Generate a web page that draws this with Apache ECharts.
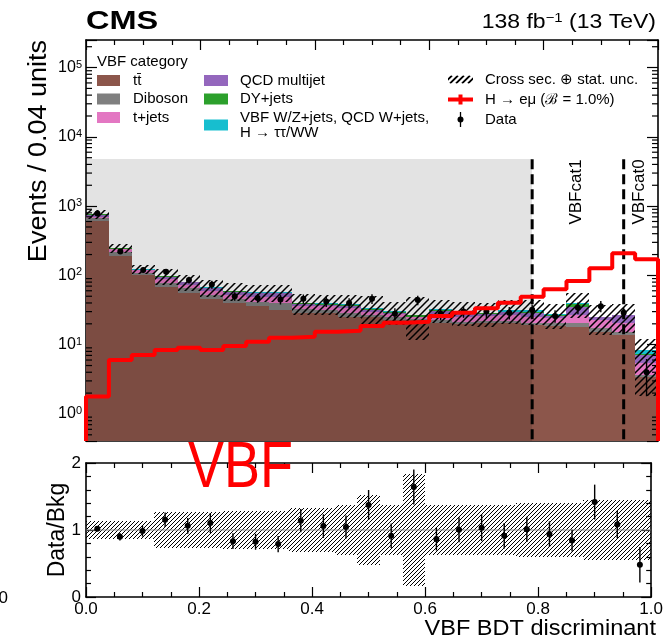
<!DOCTYPE html>
<html>
<head>
<meta charset="utf-8">
<script src="https://cdn.jsdelivr.net/npm/echarts@6/dist/echarts.min.js"></script>
<style>
  html, body { margin: 0; padding: 0; background: #fff; }
  #chart { width: 666px; height: 641px; }
</style>
</head>
<body>
<div id="chart"></div>
<script>
// VBF category: BDT discriminant, bins of 0.04
const binEdges = [0.00, 0.04, 0.08, 0.12, 0.16, 0.20, 0.24, 0.28, 0.32, 0.36, 0.40, 0.44, 0.48,
  0.52, 0.56, 0.60, 0.64, 0.68, 0.72, 0.76, 0.80, 0.84, 0.88, 0.92, 0.96, 1.00];

// background components, stacked bottom to top
const ttbar    = [615, 191, 100, 69, 55, 45, 39.6, 36, 31.7, 28.4, 28.4, 24.9, 24.9, 22.7, 22.7, 20.4, 19.9, 20.4, 20.8, 19.2, 18.6, 18.2, 15.4, 13.8, 3.4];
const diboson  = [52, 29, 9, 9.5, 11.5, 7, 5.4, 5.7, 8, 4, 3.3, 3.5, 1.9, 2.7, 1, 2.3, 1.6, 1.8, 1.4, 1.2, 1.8, 2.2, 1.8, 1.6, 0.2];
const tjets    = [36, 18, 9, 9, 7, 7, 7, 7, 9, 4, 4, 5, 3, 2.5, 1, 4.5, 4, 3.5, 4.5, 5, 3.5, 6.4, 5.5, 5, 1.8];
const qcd      = [48, 5, 2, 8, 5.5, 6, 6, 6.5, 6.5, 2.5, 2, 2.5, 1.5, 1, 0.5, 3.5, 2.5, 1.8, 2.5, 3.5, 2, 8.5, 2.3, 6.2, 1.8];
const dyjets   = [10, 2, 1, 1.5, 1.2, 1.2, 1.2, 1.2, 1.2, 1, 1.5, 1.8, 1.6, 1.2, 1.2, 1.2, 0.6, 0.8, 0.5, 0.6, 0.5, 3.5, 0.2, 0.1, 0.1];
const vbfOther = [9, 1, 1, 1, 0.8, 0.8, 0.8, 0.6, 0.6, 0.5, 0.5, 0.6, 0.6, 0.5, 0.4, 0.5, 1.3, 0.7, 2, 2.2, 1.3, 1.6, 0.2, 0.1, 1.0];

// relative background uncertainty (cross sec. + stat.), as drawn in the ratio panel
const uncRel = [0.14, 0.14, 0.14, 0.27, 0.27, 0.27, 0.28, 0.28, 0.28, 0.33, 0.33, 0.37, 0.52,
  0.37, 0.83, 0.37, 0.37, 0.37, 0.37, 0.40, 0.40, 0.40, 0.45, 0.45, 0.45];
// lower edge of the band as drawn in the upper panel (relative)
const uncDownMain = [0.14, 0.14, 0.14, 0.27, 0.27, 0.27, 0.28, 0.28, 0.28, 0.33, 0.33, 0.37, 0.45,
  0.37, 0.56, 0.37, 0.37, 0.37, 0.37, 0.40, 0.40, 0.40, 0.45, 0.45, 0.78];

// H -> e mu signal, B = 1%
const signal = [1.78, 6.0, 7.1, 8.4, 9.0, 8.4, 9.6, 11.0, 12.6, 13.0, 15.4, 15.9, 18.6, 20.8,
  21.5, 26.0, 29.0, 33.5, 40.4, 49.3, 63, 83, 127, 208, 171];

// observed data
const dataCounts = [785, 221, 120, 113, 86, 74, 50, 47, 45, 46, 42, 40, 46, 28, 44, 28, 30, 30, 29, 32, 26, 34, 36, 29, 4];
const dataErr    = [28, 14, 10, 10.6, 9.5, 10, 7, 6.8, 7, 7, 7, 6.6, 7.5, 5.6, 7, 5.5, 5.6, 5.8, 6, 6, 5.3, 6.5, 6.6, 5.5, 2.2];

const catBounds = [0.78, 0.94];
const catLabels = ['VBFcat1', 'VBFcat0'];
const blindTop = 4730;

const Y_MIN = 0.407, Y_MAX = 2.5e5;
const FONT = '"Liberation Sans", Arial, Helvetica, sans-serif';

const components = [
  { name: 'tt\u0304', values: ttbar, color: '#8c564b' },
  { name: 'Diboson', values: diboson, color: '#7f7f7f' },
  { name: 't+jets', values: tjets, color: '#e377c2' },
  { name: 'QCD multijet', values: qcd, color: '#9467bd' },
  { name: 'DY+jets', values: dyjets, color: '#2ca02c' },
  { name: 'VBF W/Z+jets, QCD W+jets,\nH \u2192 \u03c4\u03c4/WW', values: vbfOther, color: '#17becf' }
];
const NAME_UNC = 'Cross sec. \u2295 stat. unc.';
const NAME_SIG = 'H \u2192 e\u03bc (\u212c = 1.0%)';
const NAME_DATA = 'Data';

const nBins = binEdges.length - 1;
const total = ttbar.map((_, i) => components.reduce((s, c) => s + c.values[i], 0));

// hatch pattern tiles
function hatchCanvas(p, lw) {
  const c = document.createElement('canvas');
  c.width = p; c.height = p;
  const g = c.getContext('2d');
  g.strokeStyle = '#000';
  g.lineWidth = lw;
  g.beginPath();
  g.moveTo(-1, p + 1); g.lineTo(p + 1, -1);
  g.moveTo(-1, 1); g.lineTo(1, -1);
  g.moveTo(p - 1, p + 1); g.lineTo(p + 1, p - 1);
  g.stroke();
  return c;
}
const hatchMain = { image: hatchCanvas(7, 1.5), repeat: 'repeat' };
const hatchRatio = { image: hatchCanvas(4, 1.0), repeat: 'repeat' };

function iconURL(draw) {
  const c = document.createElement('canvas');
  c.width = 25; c.height = 15;
  draw(c.getContext('2d'));
  return 'image://' + c.toDataURL();
}
const iconUnc = iconURL(g => {
  g.save(); g.beginPath(); g.rect(0, 3.5, 25, 8); g.clip();
  g.strokeStyle = '#000'; g.lineWidth = 1.8; g.beginPath();
  for (let x = -10; x < 35; x += 6) { g.moveTo(x, 11.5); g.lineTo(x + 8, 3.5); }
  g.stroke(); g.restore();
});
const iconSig = iconURL(g => {
  g.fillStyle = '#ff0000';
  g.fillRect(0, 5.5, 25, 4);
  g.fillRect(10.5, 2.5, 4, 10);
});
const iconData = iconURL(g => {
  g.strokeStyle = '#000'; g.lineWidth = 1.3;
  g.beginPath(); g.moveTo(12.5, 0); g.lineTo(12.5, 15); g.stroke();
  g.fillStyle = '#000';
  g.beginPath(); g.arc(12.5, 7.5, 3, 0, Math.PI * 2); g.fill();
});

function rectItem(fill) {
  return function (params, api) {
    const a = api.coord([api.value(0), api.value(3)]);
    const b = api.coord([api.value(1), api.value(2)]);
    const x = Math.round(a[0]), y = Math.round(a[1]);
    return {
      type: 'rect',
      shape: { x: x, y: y, width: Math.round(b[0]) - x, height: Math.round(b[1]) - y },
      style: { fill: fill }
    };
  };
}

function pointItem(yFloor) {
  return function (params, api) {
    const x = api.value(0), y = api.value(1), e = api.value(2);
    const c = api.coord([x, y]);
    const t = api.coord([x, y + e]);
    const b = api.coord([x, Math.max(y - e, yFloor)]);
    return {
      type: 'group',
      children: [
        { type: 'line', shape: { x1: c[0], y1: t[1], x2: c[0], y2: b[1] }, style: { stroke: '#000', lineWidth: 1.4 } },
        { type: 'circle', shape: { cx: c[0], cy: c[1], r: 3 }, style: { fill: '#000', stroke: 'none' } }
      ]
    };
  };
}

const series = [];
const quiet = { silent: true, emphasis: { disabled: true } };

// stacked background
let below = new Array(nBins).fill(Y_MIN);
components.forEach(c => {
  const rows = [];
  const next = below.slice();
  for (let i = 0; i < nBins; i++) {
    const lo = below[i];
    const hi = (lo === Y_MIN ? 0 : lo) + c.values[i];
    rows.push([binEdges[i], binEdges[i + 1], lo, hi]);
    next[i] = hi;
  }
  below = next;
  series.push(Object.assign({
    type: 'custom', name: c.name, xAxisIndex: 0, yAxisIndex: 0, clip: true,
    itemStyle: { color: c.color },
    encode: { x: [0, 1], y: [2, 3] },
    renderItem: rectItem(c.color),
    data: rows
  }, quiet));
});

// shaded region (left of VBFcat1)
series.push(Object.assign({
  type: 'custom', xAxisIndex: 0, yAxisIndex: 0, clip: true,
  encode: { x: [0, 1], y: [2, 3] },
  renderItem: rectItem('rgba(0,0,0,0.11)'),
  data: [[0, catBounds[0], Y_MIN, blindTop]]
}, quiet));

// uncertainty band in main panel
series.push(Object.assign({
  type: 'custom', name: NAME_UNC, xAxisIndex: 0, yAxisIndex: 0, clip: true,
  itemStyle: { color: '#000' },
  encode: { x: [0, 1], y: [2, 3] },
  renderItem: rectItem(hatchMain),
  data: total.map((t, i) => [binEdges[i], binEdges[i + 1], t * (1 - uncDownMain[i]), t * (1 + uncRel[i])])
}, quiet));

// category boundaries
series.push(Object.assign({
  type: 'custom', xAxisIndex: 0, yAxisIndex: 0, clip: true,
  renderItem: function (params, api) {
    const a = api.coord([api.value(0), blindTop]);
    const b = api.coord([api.value(0), Y_MIN]);
    return {
      type: 'line', shape: { x1: a[0], y1: a[1], x2: b[0], y2: b[1] },
      style: { stroke: '#000', lineWidth: 3, lineDash: [10, 5] }
    };
  },
  data: catBounds.map(x => [x])
}, quiet));

// signal histogram outline
const sigPts = [[binEdges[0], Y_MIN]];
signal.forEach((s, i) => sigPts.push([binEdges[i], s]));
sigPts.push([binEdges[nBins], signal[nBins - 1]]);
sigPts.push([binEdges[nBins], Y_MIN]);
series.push(Object.assign({
  type: 'line', name: NAME_SIG, xAxisIndex: 0, yAxisIndex: 0, step: 'end',
  symbol: 'none', clip: true, itemStyle: { color: '#ff0000' },
  lineStyle: { color: '#ff0000', width: 4 },
  data: sigPts
}, quiet));

// data points
const centers = binEdges.slice(0, -1).map((x, i) => (x + binEdges[i + 1]) / 2);
series.push(Object.assign({
  type: 'custom', name: NAME_DATA, xAxisIndex: 0, yAxisIndex: 0, clip: true,
  itemStyle: { color: '#000' },
  encode: { x: 0, y: 1 },
  renderItem: pointItem(Y_MIN),
  data: dataCounts.map((d, i) => [centers[i], d, dataErr[i]])
}, quiet));

// log minor ticks, both sides of the main panel
const minorLog = [];
for (let n = -1; n <= 5; n++) {
  for (let k = 2; k <= 9; k++) {
    const v = k * Math.pow(10, n);
    if (v > Y_MIN && v < Y_MAX) minorLog.push([0, v]);
  }
}
series.push(Object.assign({
  type: 'custom', xAxisIndex: 0, yAxisIndex: 0,
  renderItem: function (params, api) {
    const l = api.coord([0, api.value(1)]);
    const r = api.coord([1, api.value(1)]);
    const st = { stroke: '#000', lineWidth: 1.2 };
    return {
      type: 'group', children: [
        { type: 'line', shape: { x1: l[0], y1: l[1], x2: l[0] + 6, y2: l[1] }, style: st },
        { type: 'line', shape: { x1: r[0], y1: r[1], x2: r[0] - 6, y2: r[1] }, style: st }
      ]
    };
  },
  data: minorLog
}, quiet));

// ratio panel
series.push(Object.assign({
  type: 'custom', xAxisIndex: 2, yAxisIndex: 2, clip: true,
  encode: { x: [0, 1], y: [2, 3] },
  renderItem: rectItem(hatchRatio),
  data: uncRel.map((u, i) => [binEdges[i], binEdges[i + 1], Math.max(0, 1 - u), 1 + u])
}, quiet));
series.push(Object.assign({
  type: 'custom', xAxisIndex: 2, yAxisIndex: 2,
  renderItem: function (params, api) {
    const a = api.coord([0, 1]), b = api.coord([1, 1]);
    return { type: 'line', shape: { x1: a[0], y1: a[1], x2: b[0], y2: b[1] }, style: { stroke: '#8a8a8a', lineWidth: 1.2 } };
  },
  data: [[0, 1]]
}, quiet));
series.push(Object.assign({
  type: 'custom', name: 'ratio', xAxisIndex: 2, yAxisIndex: 2, clip: true,
  itemStyle: { color: '#000' },
  encode: { x: 0, y: 1 },
  renderItem: pointItem(0),
  data: dataCounts.map((d, i) => [centers[i], d / total[i], dataErr[i] / total[i]])
}, quiet));

const frameLine = { show: true, onZero: false, lineStyle: { color: '#000', width: 1.6 } };
const tickStyle = { color: '#000', width: 1.2 };

function xAxisDef(grid, pos, labels) {
  return {
    type: 'value', gridIndex: grid, position: pos, min: 0, max: 1, interval: 0.2,
    axisLine: frameLine,
    axisTick: { show: true, inside: true, length: 10, lineStyle: tickStyle },
    minorTick: { show: true, splitNumber: 4, length: 5, lineStyle: tickStyle },
    splitLine: { show: false },
    axisLabel: labels ? {
      show: true, color: '#000', fontSize: 17, fontFamily: FONT, margin: 4,
      formatter: v => v.toFixed(1)
    } : { show: false }
  };
}
function logAxisDef(pos, labels) {
  return {
    type: 'log', logBase: 10, gridIndex: 0, position: pos, min: Y_MIN, max: Y_MAX,
    axisLine: frameLine,
    axisTick: { show: true, inside: true, length: 11, lineStyle: tickStyle },
    splitLine: { show: false },
    axisLabel: labels ? {
      show: true, color: '#000', margin: 4, fontFamily: FONT,
      formatter: v => {
        const n = Math.log10(v);
        if (Math.abs(n - Math.round(n)) > 0.01) return '';
        return '{b|10}{s|' + Math.round(n) + '}';
      },
      rich: {
        b: { fontSize: 16, color: '#000', fontFamily: FONT },
        s: { fontSize: 11, color: '#000', fontFamily: FONT, verticalAlign: 'top', padding: [0, 0, 6, 0] }
      }
    } : { show: false }
  };
}
function ratioYDef(pos, labels) {
  return {
    type: 'value', gridIndex: 1, position: pos, min: 0, max: 2, interval: 1,
    axisLine: frameLine,
    axisTick: { show: true, inside: true, length: 10, lineStyle: tickStyle },
    minorTick: { show: true, splitNumber: 5, length: 5, lineStyle: tickStyle },
    splitLine: { show: false },
    axisLabel: labels ? { show: true, color: '#000', fontSize: 17, fontFamily: FONT, margin: 5 } : { show: false }
  };
}

const legendBase = {
  orient: 'vertical', padding: 0, selectedMode: false,
  textStyle: { color: '#000', fontSize: 15, fontFamily: FONT, lineHeight: 15 }
};

const option = {
  animation: false,
  backgroundColor: '#fff',
  textStyle: { fontFamily: FONT },
  grid: [
    { left: 86, top: 40, width: 572, height: 401 },
    { left: 86, top: 463, width: 572, height: 134 }
  ],
  xAxis: [xAxisDef(0, 'bottom', false), xAxisDef(0, 'top', false), xAxisDef(1, 'bottom', true), xAxisDef(1, 'top', false)],
  yAxis: [logAxisDef('left', true), logAxisDef('right', false), ratioYDef('left', true), ratioYDef('right', false)],
  legend: [
    Object.assign({}, legendBase, {
      left: 97, top: 73, itemWidth: 23, itemHeight: 11, itemGap: 3.5, icon: 'rect',
      textStyle: Object.assign({}, legendBase.textStyle, { padding: [0, 0, 0, 8] }),
      data: components.slice(0, 3).map(c => c.name)
    }),
    Object.assign({}, legendBase, {
      left: 204, top: 73, itemWidth: 24, itemHeight: 11, itemGap: 3.5, icon: 'rect',
      textStyle: Object.assign({}, legendBase.textStyle, { padding: [0, 0, 0, 7] }),
      data: components.slice(3).map(c => c.name)
    }),
    Object.assign({}, legendBase, {
      left: 448, top: 72, itemWidth: 25, itemHeight: 15, itemGap: 5,
      textStyle: Object.assign({}, legendBase.textStyle, { padding: [0, 0, 0, 7] }),
      data: [
        { name: NAME_UNC, icon: iconUnc },
        { name: NAME_SIG, icon: iconSig },
        { name: NAME_DATA, icon: iconData }
      ]
    })
  ],
  graphic: [
    { type: 'text', x: 86, y: 21.5, scaleX: 1.25, style: { text: 'CMS', font: 'bold 26px ' + FONT, fill: '#000', align: 'left', verticalAlign: 'middle' } },
    {
      type: 'text', x: 656, y: 22, scaleX: 1.15,
      style: {
        text: '{n|138 fb}{s|\u22121}{n| (13 TeV)}', fill: '#000', align: 'right', verticalAlign: 'middle',
        rich: {
          n: { fontSize: 20, fontFamily: FONT, fill: '#000' },
          s: { fontSize: 13, fontFamily: FONT, fill: '#000', verticalAlign: 'top' }
        }
      }
    },
    { type: 'text', x: 97, y: 62, style: { text: 'VBF category', font: '15px ' + FONT, fill: '#000', align: 'left', verticalAlign: 'middle' } },
    { type: 'text', x: 39, y: 40, rotation: Math.PI / 2, scaleX: 1.08, style: { text: 'Events / 0.04 units', font: '25px ' + FONT, fill: '#000', align: 'right', verticalAlign: 'middle' } },
    { type: 'text', x: 58, y: 530, rotation: Math.PI / 2, style: { text: 'Data/Bkg', font: '23px ' + FONT, fill: '#000', align: 'center', verticalAlign: 'middle' } },
    { type: 'text', x: 656, y: 629, scaleX: 1.07, style: { text: 'VBF BDT discriminant', font: '22px ' + FONT, fill: '#000', align: 'right', verticalAlign: 'middle' } },
    { type: 'text', x: 576, y: 192, rotation: Math.PI / 2, style: { text: catLabels[0], font: '17px ' + FONT, fill: '#000', align: 'center', verticalAlign: 'middle' } },
    { type: 'text', x: 639, y: 192, rotation: Math.PI / 2, style: { text: catLabels[1], font: '17px ' + FONT, fill: '#000', align: 'center', verticalAlign: 'middle' } },
    {
      type: 'text', x: 188, y: 469, scaleX: 0.83, z: 100,
      style: {
        text: 'VBF', font: '65px ' + FONT, fill: '#ff0000', align: 'left', verticalAlign: 'middle',
        shadowColor: 'rgba(0,0,0,0.35)', shadowBlur: 3, shadowOffsetX: 1, shadowOffsetY: 1
      }
    },
    { type: 'text', x: 8, y: 598, style: { text: '0', font: '17px ' + FONT, fill: '#000', align: 'right', verticalAlign: 'middle' } }
  ],
  series: series
};

const chart = echarts.init(document.getElementById('chart'));
chart.setOption(option);
</script>
</body>
</html>
